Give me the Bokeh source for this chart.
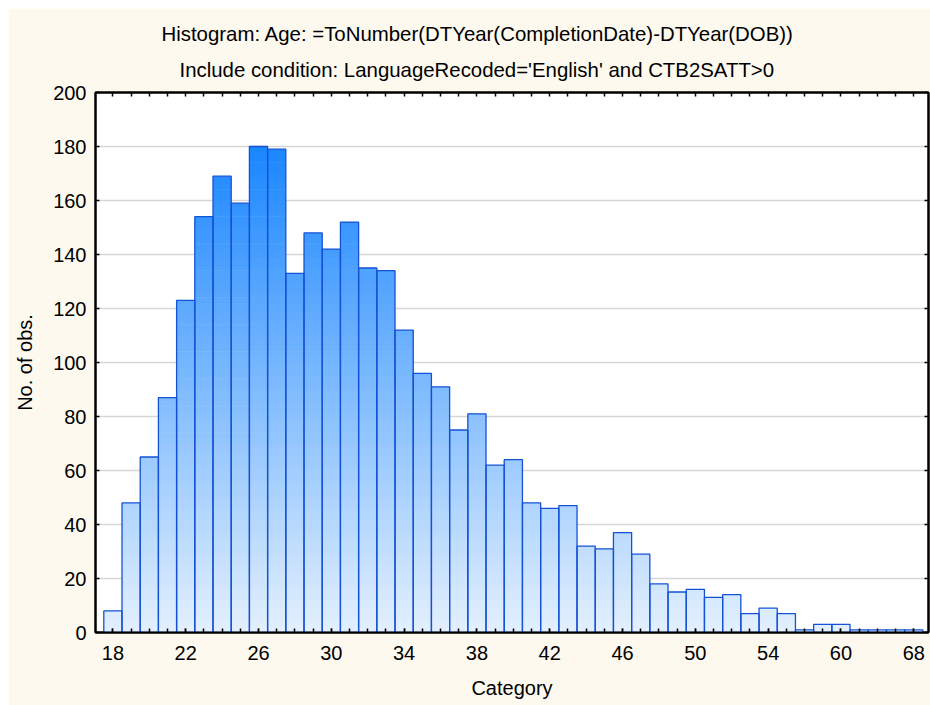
from bokeh.plotting import figure
from bokeh.models import Range1d, FixedTicker, Title, ColumnDataSource, LinearAxis
from bokeh.embed import file_html
from bokeh.resources import INLINE

# ---- data ----
ages = [18, 19, 20, 21, 22, 23, 24, 25, 26, 27, 28, 29, 30, 31, 32, 33, 34, 35, 36, 37,
        38, 39, 40, 41, 42, 43, 44, 45, 46, 47, 48, 49, 50, 51, 52, 53, 54, 55, 56, 58,
        60, 62, 63, 65, 68]
counts = [8, 48, 65, 87, 123, 154, 169, 159, 180, 179, 133, 148, 142, 152, 135, 134, 112, 96, 91, 75,
          81, 62, 64, 48, 46, 47, 32, 31, 37, 29, 18, 15, 16, 13, 14, 7, 9, 7, 1, 3,
          3, 1, 1, 1, 1]
y_ticks = list(range(0, 201, 20))
label_every = 4

title1 = "Histogram: Age: =ToNumber(DTYear(CompletionDate)-DTYear(DOB))"
title2 = "Include condition: LanguageRecoded='English' and CTB2SATT>0"
x_title = "Category"
y_title = "No. of obs."

FONT = "Liberation Sans"
FS = "20px"
FS_T = "20.4px"

X0, X1 = -0.956, 44.81
Y0, Y1 = 0, 200

# gradient colours (bottom -> top of tallest bar)
c_bot = (228, 240, 253)
c_top = (26, 134, 255)
ymax_grad = max(counts)


def grad(v):
    t = max(0.0, min(1.0, v / ymax_grad))
    r, g, b = (round(c_bot[j] + (c_top[j] - c_bot[j]) * t) for j in range(3))
    return "#%02x%02x%02x" % (r, g, b)


xs = list(range(len(ages)))
step = 2
L, R, B, T, C = [], [], [], [], []
for i, c in zip(xs, counts):
    k = 0
    while k < c:
        L.append(i - 0.5)
        R.append(i + 0.5)
        B.append(k)
        T.append(min(k + step + 0.2, c))
        C.append(grad(k + step / 2))
        k += step
slices = ColumnDataSource(dict(left=L, right=R, bottom=B, top=T, color=C))
bars = ColumnDataSource(dict(left=[x - 0.5 for x in xs], right=[x + 0.5 for x in xs],
                             bottom=[0] * len(xs), top=counts))

p = figure(width=922, height=697, output_backend="svg", toolbar_location=None,
           x_range=Range1d(X0, X1), y_range=Range1d(Y0, Y1), title=None,
           min_border_left=87, min_border_right=2, min_border_top=84, min_border_bottom=73,
           background_fill_color="white", border_fill_color="#FDF9EF",
           outline_line_color="black", outline_line_width=2)
p.margin = (8, 0, 0, 8)

p.quad(left="left", right="right", bottom="bottom", top="top", source=slices,
       fill_color="color", line_color=None)
p.quad(left="left", right="right", bottom="bottom", top="top", source=bars,
       fill_color=None, line_color="#1352d6", line_width=1.3)

xticker = FixedTicker(ticks=xs[::label_every], minor_ticks=xs)
overrides = {i: str(ages[i]) for i in xs[::label_every]}
yticker = FixedTicker(ticks=y_ticks)
# tick-only tickers for the top and right frame edges (no major ticks -> no labels)
xticker_top = FixedTicker(ticks=[], minor_ticks=xs)
yticker_right = FixedTicker(ticks=[], minor_ticks=y_ticks)


def style_axis(ax):
    ax.axis_line_color = "black"
    ax.axis_line_width = 2
    ax.major_tick_in = 4
    ax.major_tick_out = 0
    ax.minor_tick_in = 4
    ax.minor_tick_out = 0
    ax.major_tick_line_width = 1.5
    ax.minor_tick_line_width = 1.5
    ax.major_tick_line_color = "black"
    ax.minor_tick_line_color = "black"
    ax.major_label_text_font = FONT
    ax.major_label_text_font_size = FS
    ax.major_label_text_color = "black"
    ax.axis_label_text_font = FONT
    ax.axis_label_text_font_size = FS
    ax.axis_label_text_font_style = "normal"
    ax.axis_label_text_color = "black"


xa = p.xaxis[0]
xa.ticker = xticker
xa.major_label_overrides = overrides
xa.axis_label = x_title
xa.major_label_standoff = 13
xa.axis_label_standoff = 14
style_axis(xa)

ya = p.yaxis[0]
ya.ticker = yticker
ya.axis_label = y_title
ya.major_label_standoff = 9
ya.axis_label_standoff = 14
style_axis(ya)
ya.minor_tick_in = 0

top_ax = LinearAxis(ticker=xticker_top, major_label_standoff=0)
style_axis(top_ax)
p.add_layout(top_ax, "above")

right_ax = LinearAxis(ticker=yticker_right, major_label_standoff=0)
style_axis(right_ax)
p.add_layout(right_ax, "right")

p.xgrid.visible = False
p.ygrid.ticker = yticker
p.ygrid.grid_line_color = "#d6d6d6"
p.ygrid.grid_line_width = 1.6

t2 = Title(text=title2, align="left", offset=84, text_font=FONT, text_font_size=FS_T,
           text_font_style="normal", text_color="black", standoff=24)
t1 = Title(text=title1, align="left", offset=66, text_font=FONT, text_font_size=FS_T,
           text_font_style="normal", text_color="black", standoff=0)
p.add_layout(t2, "above")
p.add_layout(t1, "above")

open("out.html", "w").write(file_html(p, INLINE))
